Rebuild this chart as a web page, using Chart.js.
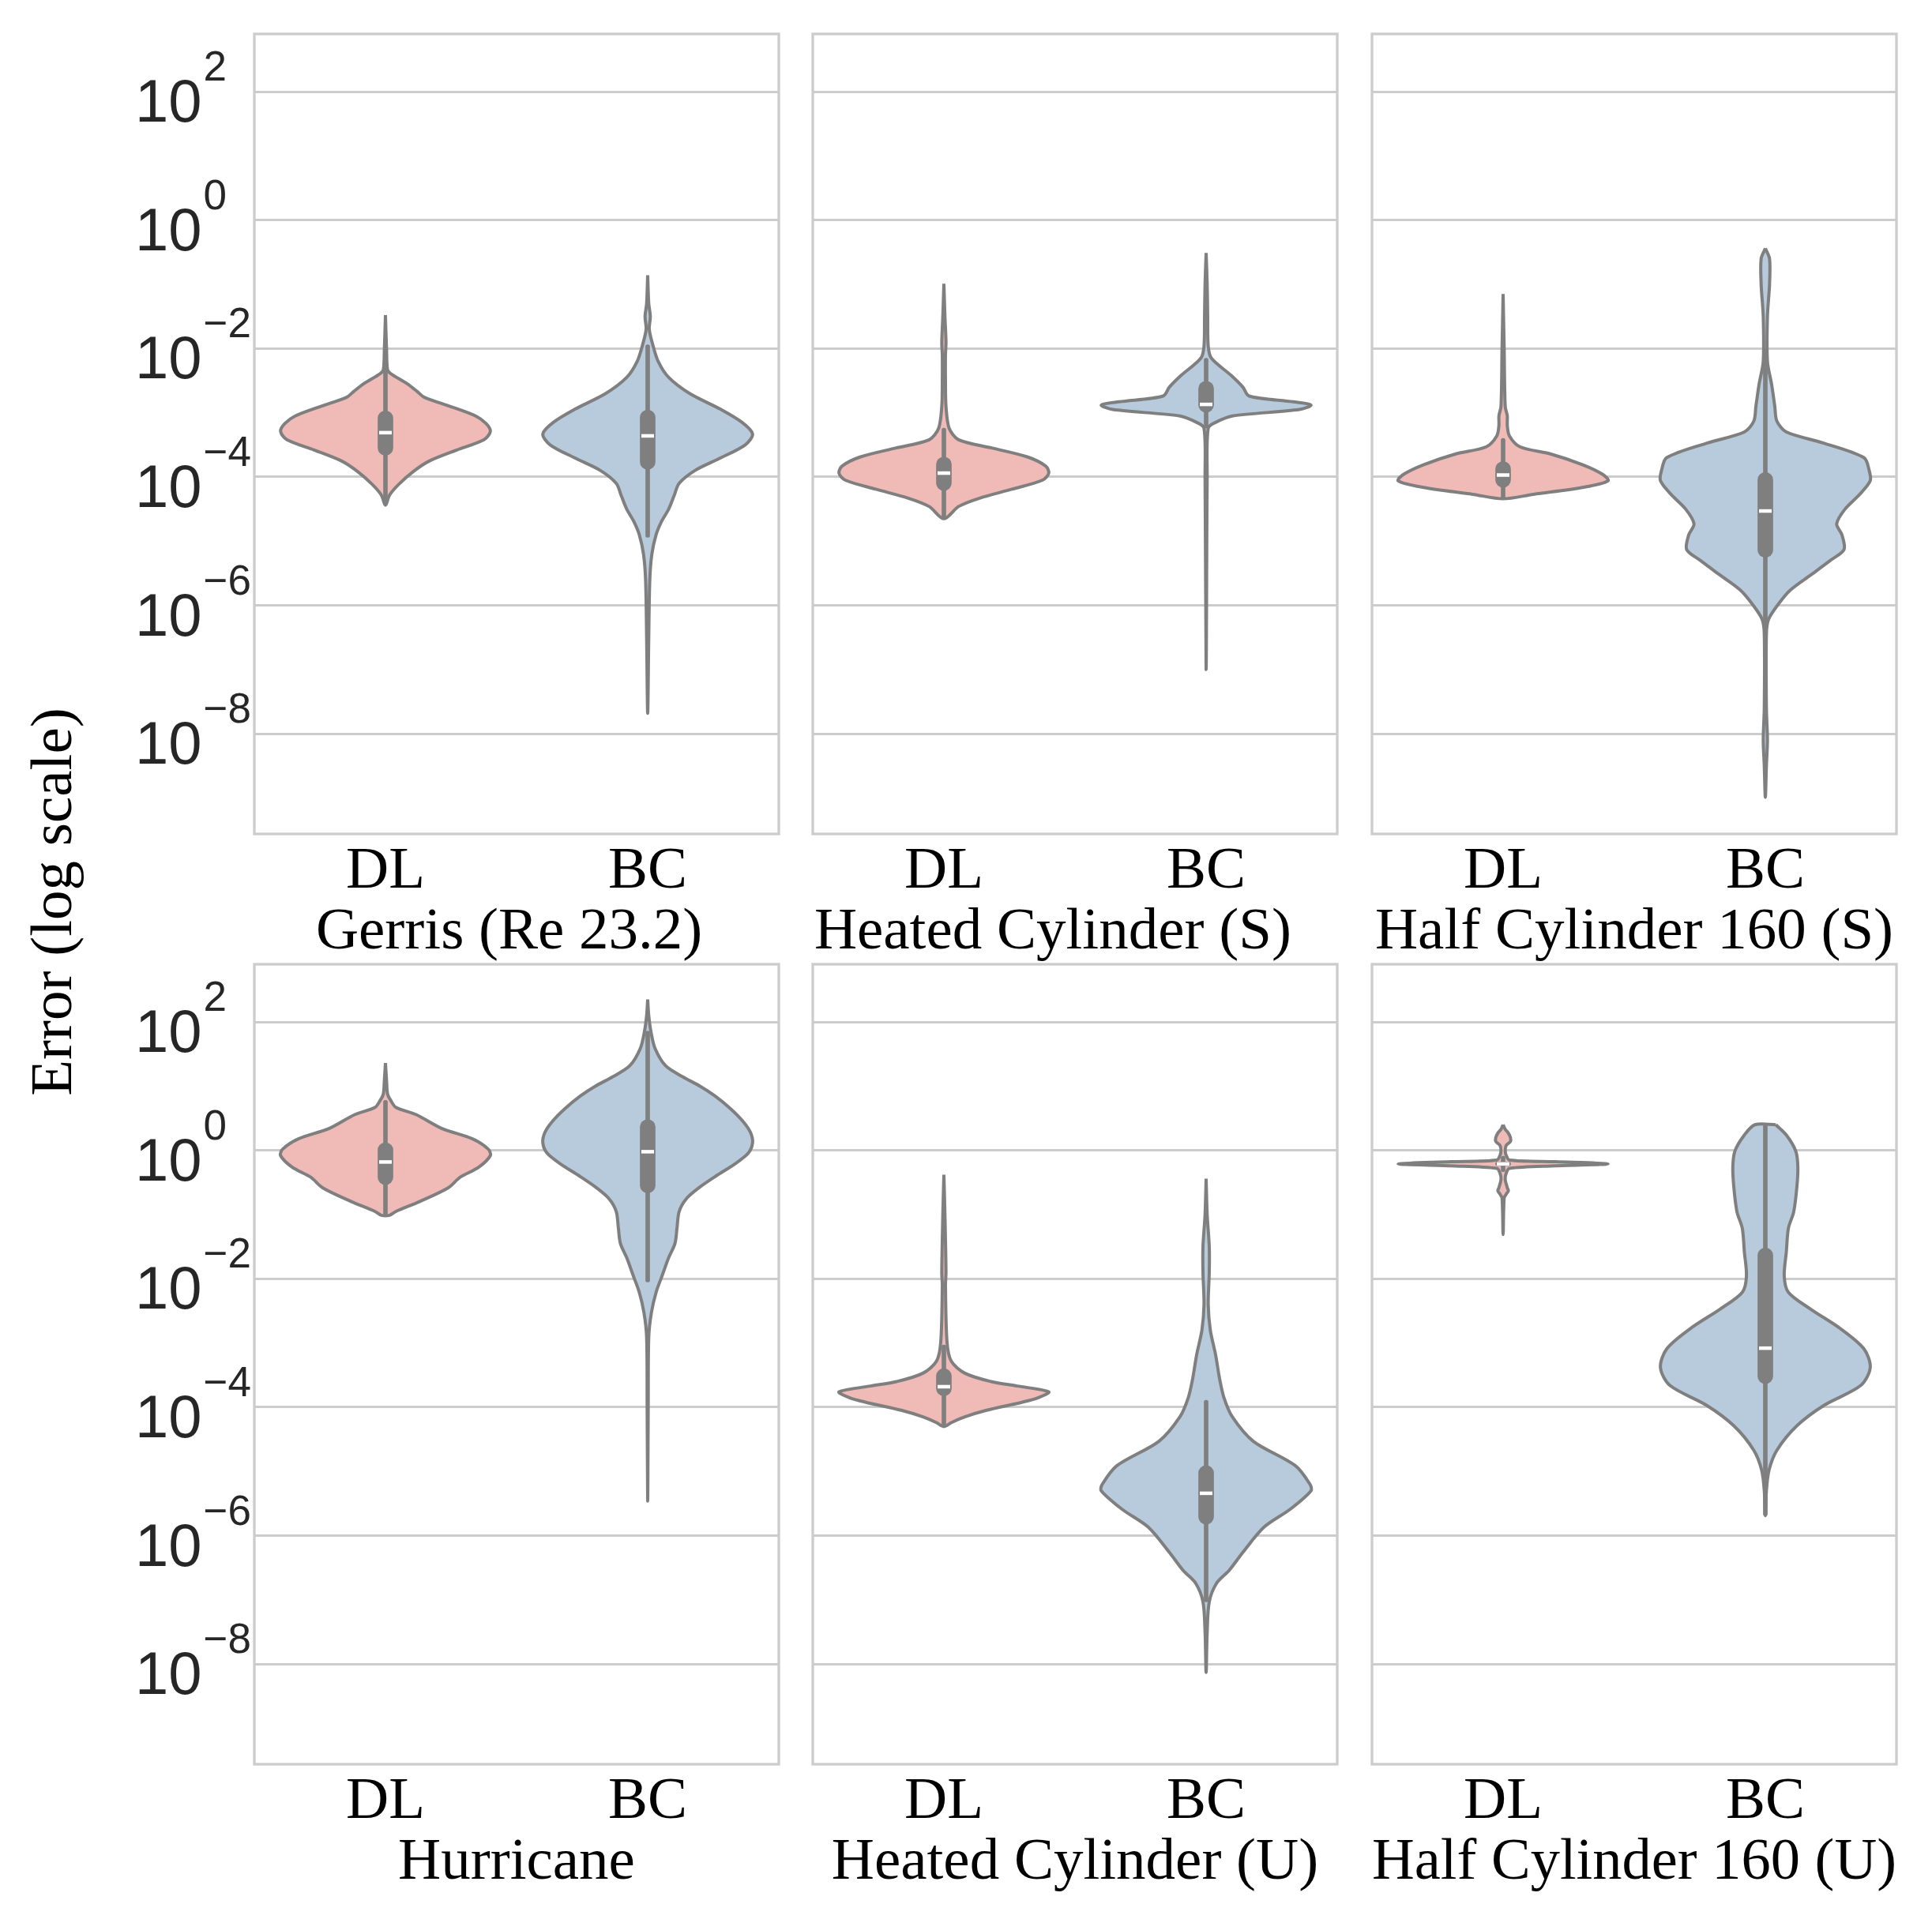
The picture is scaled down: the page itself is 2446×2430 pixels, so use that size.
<!DOCTYPE html>
<html>
<head>
<meta charset="utf-8">
<script src="https://cdn.jsdelivr.net/npm/chart.js@4.4.1/dist/chart.umd.min.js"></script>
<style>
  html, body { margin: 0; padding: 0; background: #fff; }
  #page { position: relative; width: 2446px; height: 2430px; overflow: hidden; background: #fff; }
  #page canvas { position: absolute; }
  #ylabel {
    position: absolute; left: 65px; top: 1142px;
    font-family: "Liberation Serif"; font-size: 75px; color: #000; white-space: nowrap;
    transform: translate(-50%, -50%) rotate(-90deg);
  }
</style>
</head>
<body>
<div id="page">
  <div id="ylabel">Error (log scale)</div>
</div>
<script>
const groups = ['DL', 'BC'];
// trailing spaces keep the off-centre placement of two labels
const panelTitles = ['Gerris (Re 23.2) ', 'Heated Cylinder (S)   ', 'Half Cylinder 160 (S)',
                     'Hurricane', 'Heated Cylinder (U)', 'Half Cylinder 160 (U)'];
const tickExps = [-8, -6, -4, -2, 0, 2];
const yMinExp = -9.56;
const yMaxExp = 2.90;

// violin outlines, top to bottom: [log10 error, half width relative to widest point]
const gerrisDL = [[-1.48,0],[-2.0,0.01],[-2.33,0.02],[-2.39,0.05],[-2.55,0.21],[-2.68,0.31],[-2.76,0.37],
  [-2.88,0.58],[-3.05,0.86],[-3.17,0.96],[-3.29,1.0],[-3.42,0.94],[-3.58,0.68],[-3.75,0.42],[-3.91,0.27],
  [-4.11,0.13],[-4.28,0.04],[-4.44,0]];
const gerrisBC = [[-0.86,0],[-1.3,0.01],[-1.5,0.025],[-1.7,0.015],[-1.95,0.05],[-2.2,0.1],[-2.45,0.2],[-2.7,0.4],
  [-2.95,0.7],[-3.15,0.9],[-3.33,1.0],[-3.5,0.93],[-3.7,0.7],[-3.9,0.45],[-4.1,0.3],[-4.3,0.25],[-4.5,0.2],
  [-4.7,0.13],[-4.9,0.08],[-5.2,0.04],[-5.6,0.02],[-6.5,0.01],[-7.68,0]];
const heatedSDL = [[-0.99,0],[-1.5,0.01],[-1.9,0.02],[-2.1,0.015],[-2.5,0.015],[-2.9,0.02],[-3.24,0.05],
  [-3.42,0.14],[-3.55,0.46],[-3.69,0.8],[-3.83,0.97],[-3.94,1.0],[-4.05,0.94],[-4.19,0.65],[-4.33,0.34],
  [-4.46,0.14],[-4.65,0]];
const heatedSBC = [[-0.51,0],[-1.0,0.01],[-1.5,0.015],[-1.96,0.02],[-2.15,0.05],[-2.42,0.24],[-2.6,0.35],
  [-2.74,0.41],[-2.83,0.83],[-2.88,1.0],[-2.95,0.89],[-3.05,0.25],[-3.15,0.09],[-3.24,0.02],[-4.0,0.01],[-7.0,0]];
const halfSDL = [[-1.15,0],[-2.0,0.01],[-2.9,0.02],[-3.05,0.04],[-3.2,0.04],[-3.36,0.06],[-3.53,0.16],
  [-3.64,0.45],[-3.81,0.76],[-3.96,0.95],[-4.06,1.0],[-4.16,0.77],[-4.27,0.29],[-4.34,0]];
const halfSBC = [[-0.44,0],[-0.6,0.04],[-1.0,0.04],[-1.5,0.02],[-2.2,0.02],[-2.56,0.06],[-2.9,0.09],[-3.13,0.11],
  [-3.3,0.2],[-3.47,0.55],[-3.7,0.94],[-3.9,0.99],[-4.06,1.0],[-4.27,0.9],[-4.5,0.76],[-4.73,0.68],[-4.9,0.73],
  [-5.13,0.75],[-5.3,0.62],[-5.53,0.43],[-5.76,0.24],[-5.99,0.12],[-6.22,0.03],[-6.45,0.01],[-7.6,0.01],
  [-8.1,0.02],[-8.5,0.01],[-8.99,0]];
const hurricaneDL = [[1.36,0],[1.1,0.01],[0.88,0.02],[0.78,0.05],[0.67,0.1],[0.56,0.29],[0.34,0.54],[0.18,0.83],
  [0.02,0.98],[-0.08,1.0],[-0.26,0.89],[-0.42,0.71],[-0.58,0.6],[-0.8,0.32],[-0.95,0.1],[-1.01,0.04]];
const hurricaneBC = [[2.35,0],[2.1,0.01],[1.86,0.03],[1.59,0.07],[1.32,0.17],[1.15,0.33],[1.0,0.5],[0.85,0.64],
  [0.65,0.79],[0.45,0.91],[0.28,0.98],[0.12,1.0],[-0.04,0.96],[-0.2,0.84],[-0.4,0.65],[-0.58,0.49],
  [-0.75,0.37],[-0.95,0.3],[-1.2,0.28],[-1.45,0.26],[-1.67,0.2],[-1.94,0.14],[-2.21,0.08],[-2.53,0.035],
  [-2.91,0.01],[-4.0,0.005],[-5.46,0]];
const heatedUDL = [[-0.38,0],[-1.0,0.01],[-1.9,0.02],[-2.1,0.015],[-2.99,0.03],[-3.28,0.07],[-3.47,0.2],
  [-3.6,0.45],[-3.67,0.7],[-3.76,1.0],[-3.85,0.9],[-3.92,0.75],[-4.05,0.4],[-4.15,0.2],[-4.24,0.07],[-4.30,0]];
const heatedUBC = [[-0.44,0],[-1.0,0.01],[-1.5,0.03],[-1.9,0.03],[-2.4,0.02],[-2.8,0.04],[-3.18,0.09],
  [-3.57,0.13],[-3.85,0.17],[-4.15,0.25],[-4.53,0.45],[-4.91,0.85],[-5.2,0.99],[-5.3,1.0],[-5.59,0.8],
  [-5.87,0.55],[-6.26,0.35],[-6.54,0.22],[-6.74,0.1],[-7.03,0.03],[-7.5,0.01],[-8.13,0]];
const halfUDL = [[0.40,0],[0.33,0.02],[0.27,0.05],[0.2,0.07],[0.14,0.07],[0.08,0.03],[0.0,0.02],[-0.08,0.03],
  [-0.15,0.06],[-0.176,0.5],[-0.21,1.0],[-0.24,0.5],[-0.28,0.06],[-0.35,0.03],[-0.45,0.02],[-0.58,0.04],
  [-0.63,0.05],[-0.68,0.03],[-0.74,0.01],[-1.31,0]];
const halfUBC = [[0.40,0.1],[0.24,0.2],[-0.01,0.29],[-0.26,0.31],[-0.58,0.30],[-0.96,0.27],[-1.21,0.22],
  [-1.58,0.2],[-1.96,0.18],[-2.21,0.22],[-2.47,0.43],[-2.78,0.72],[-3.09,0.94],[-3.38,1.0],[-3.66,0.91],
  [-3.97,0.56],[-4.29,0.3],[-4.67,0.11],[-4.98,0.035],[-5.3,0.01],[-5.69,0]];

// inner box per panel, DL then BC: [upper quartile, median, lower quartile, whisker top, whisker bottom] (log10)
const gerrisBox = [[-2.97,-3.31,-3.66,-1.94,-4.44],[-2.96,-3.36,-3.88,-1.94,-4.94]];
const heatedSBox = [[-3.69,-3.94,-4.21,-3.24,-4.65],[-2.51,-2.87,-2.99,-2.15,-3.24]];
const halfSBox = [[-3.76,-3.97,-4.16,-3.40,-4.34],[-3.93,-4.53,-5.25,-2.0,-7.2]];
const hurricaneBox = [[0.12,-0.18,-0.53,0.78,-1.01],[0.48,-0.02,-0.66,1.86,-2.05]];
const heatedUBox = [[-3.40,-3.68,-3.82,-3.03,-4.30],[-4.91,-5.34,-5.82,-3.89,-7.03]];
const halfUBox = [[-0.18,-0.21,-0.24,-0.09,-0.33],[-1.52,-3.08,-3.63,0.40,-5.69]];

const violins = [[gerrisDL, gerrisBC], [heatedSDL, heatedSBC], [halfSDL, halfSBC],
                 [hurricaneDL, hurricaneBC], [heatedUDL, heatedUBC], [halfUDL, halfUBC]];
const boxes = [gerrisBox, heatedSBox, halfSBox, hurricaneBox, heatedUBox, halfUBox];

const fills = ['#f0bbb7', '#b8cbdd'];
const gray = '#7f7f7f';

// panel boxes on the page
const colLeft = [322, 1029, 1737];
const rowTop = [43, 1221];
const boxW = 664, boxH = 1013;

function outline(profile, centre) {
  const pts = profile.map(([e, w]) => ({x: centre + 0.4 * w, y: 10 ** e}));
  const back = profile.slice().reverse().map(([e, w]) => ({x: centre - 0.4 * w, y: 10 ** e}));
  if (profile[profile.length - 1][1] === 0) back.shift();
  if (profile[0][1] !== 0) back.push(pts[0]);
  return pts.concat(back);
}

const panelFrame = {
  id: 'panelFrame',
  beforeDatasetsDraw(chart) {
    const {ctx, chartArea: a} = chart;
    ctx.save();
    ctx.strokeStyle = '#cccccc';
    ctx.lineWidth = 3.3;
    ctx.strokeRect(a.left, a.top, a.right - a.left, a.bottom - a.top);
    ctx.restore();
  }
};

// "10" with a raised exponent, like the mathtext labels
const logTickLabels = {
  id: 'logTickLabels',
  afterDraw(chart, args, opts) {
    if (!opts.show) return;
    const {ctx} = chart;
    const y = chart.scales.y;
    ctx.save();
    ctx.fillStyle = '#262626';
    ctx.textBaseline = 'alphabetic';
    ctx.textAlign = 'left';
    const left = 171;
    for (const e of tickExps) {
      const py = y.getPixelForValue(10 ** e);
      const sup = e < 0 ? '\u2212' + (-e) : String(e);
      ctx.font = '76px "Liberation Sans"';
      ctx.fillText('10', left, py + 38);
      const baseW = ctx.measureText('10').width;
      ctx.font = '53px "Liberation Sans"';
      ctx.fillText(sup, left + baseW + 2, py - 14);
    }
    ctx.restore();
  }
};

const page = document.getElementById('page');

panelTitles.forEach((title, p) => {
  const r = Math.floor(p / 3), c = p % 3;
  const padL = c === 0 ? colLeft[0] : 30, padR = 30, padT = 30, padB = 190;
  const canvas = document.createElement('canvas');
  canvas.width = padL + boxW + padR;
  canvas.height = padT + boxH + padB;
  canvas.style.left = (colLeft[c] - padL) + 'px';
  canvas.style.top = (rowTop[r] - padT) + 'px';
  page.appendChild(canvas);

  const datasets = [];
  violins[p].forEach((profile, g) => {
    datasets.push({
      type: 'line', data: outline(profile, g), order: 4,
      borderColor: gray, borderWidth: 4, backgroundColor: fills[g],
      fill: 'shape', tension: 0.3, pointRadius: 0, borderJoinStyle: 'round'
    });
  });
  datasets.push({
    type: 'bar', order: 3, grouped: false,
    data: boxes[p].map((b, g) => ({x: g, y: [10 ** b[3], 10 ** b[4]]})),
    backgroundColor: gray, barThickness: 5, maxBarThickness: 5, borderRadius: 2.5, borderSkipped: false
  });
  datasets.push({
    type: 'bar', order: 2, grouped: false,
    data: boxes[p].map((b, g) => ({x: g, y: [10 ** b[0], 10 ** b[2]]})),
    backgroundColor: gray, barThickness: 19, maxBarThickness: 19, borderRadius: 9.5, borderSkipped: false
  });
  datasets.push({
    type: 'scatter', order: 1,
    data: boxes[p].map((b, g) => ({x: g, y: 10 ** b[1]})),
    pointStyle: 'line', pointRadius: 8, borderColor: '#ffffff', borderWidth: 4.5
  });

  new Chart(canvas, {
    type: 'scatter',
    data: { datasets },
    options: {
      responsive: false,
      animation: false,
      events: [],
      layout: { padding: { top: padT, right: padR, left: 0, bottom: 0 } },
      plugins: {
        legend: { display: false },
        tooltip: { enabled: false },
        logTickLabels: { show: c === 0 }
      },
      scales: {
        x: {
          type: 'linear', min: -0.5, max: 1.5, bounds: 'data', offset: false,
          afterBuildTicks: s => { s.ticks = groups.map((g, i) => ({value: i})); },
          afterFit: s => { s.height = padB; },
          grid: { display: false },
          border: { display: false },
          ticks: {
            callback: v => groups[v], color: '#000', padding: -5, maxRotation: 0, autoSkip: false,
            font: { family: 'Liberation Serif', size: 75 }
          },
          title: {
            display: true, text: title, color: '#000',
            font: { family: 'Liberation Serif', size: 75 },
            padding: { top: 0, bottom: 20 }
          }
        },
        y: {
          type: 'logarithmic', min: 10 ** yMinExp, max: 10 ** yMaxExp, bounds: 'data', beginAtZero: false,
          afterBuildTicks: s => { s.ticks = tickExps.map(e => ({value: 10 ** e})); },
          afterFit: s => { s.width = padL; },
          grid: { color: '#cccccc', lineWidth: 3, drawTicks: false },
          border: { display: false },
          ticks: { display: false }
        }
      }
    },
    plugins: [panelFrame, logTickLabels]
  });
});
</script>
</body>
</html>
